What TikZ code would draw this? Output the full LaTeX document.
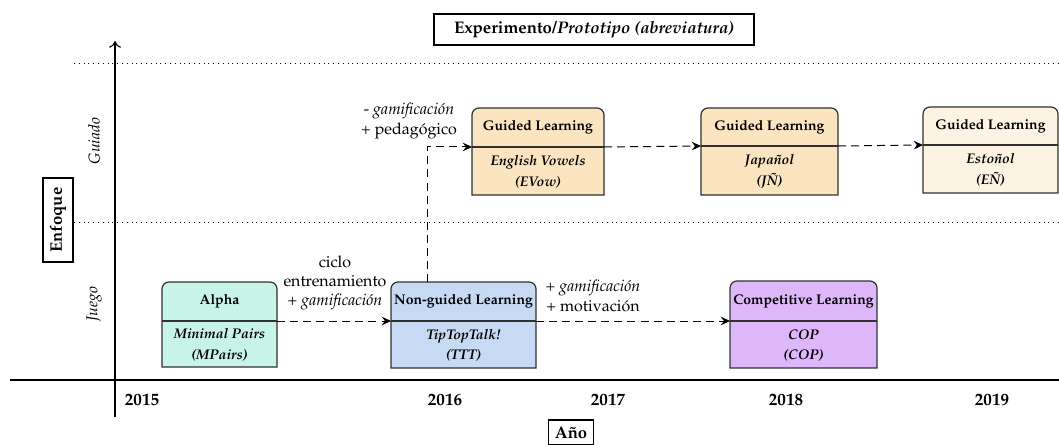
\documentclass[tikz,border=0pt]{standalone}
\usepackage[T1]{fontenc}
\usepackage{mathpazo}
\usetikzlibrary{arrows.meta}
\definecolor{alphaC}{HTML}{C8F3E9}
\definecolor{ngC}{HTML}{C6DAF3}
\definecolor{copC}{HTML}{DDB7F9}
\definecolor{evC}{HTML}{FBE4C0}
\definecolor{enC}{HTML}{FDF3E3}
\definecolor{edgeC}{HTML}{303030}
\tikzset{
  boxline/.style={draw=edgeC, line width=0.9pt},
  hdr/.style={font=\fontsize{10.5}{13}\selectfont\bfseries, inner sep=0pt},
  subtxt/.style={font=\fontsize{10.5}{15.5}\selectfont\bfseries\itshape, align=center, inner sep=0pt},
  lbl/.style={font=\fontsize{12}{14.5}\selectfont, align=center, inner sep=0pt},
  yr/.style={font=\fontsize{12.8}{14}\selectfont\bfseries, inner sep=0pt},
  axisline/.style={line width=0.8pt, black},
  dotline/.style={line width=0.6pt, dash pattern=on 0.6pt off 3pt},
  flow/.style={line width=0.75pt, dash pattern=on 6pt off 3.8pt, -{Stealth[length=7pt,width=6.5pt,inset=2.5pt]}},
  framed/.style={draw, line width=1.1pt, inner sep=3pt, font=\fontsize{12}{14}\selectfont},
}
\newcommand{\tlbox}[9]{%
  \draw[boxline, fill=#7] (#2,-#6) -- (#2,-#4-7) arc[start angle=180,end angle=90,radius=7]
     -- (#3-7,-#4) arc[start angle=90,end angle=0,radius=7] -- (#3,-#6) -- cycle;
  \draw[boxline] (#2,-#5) -- (#3,-#5);
  \coordinate (#1-w) at (#2,-#5);
  \coordinate (#1-e) at (#3,-#5);
  \node[hdr] (#1-h) at ({(#2+#3)/2},{-(#4+#5)/2}) {#8};
  \node[subtxt] (#1-s) at ({(#2+#3)/2},{-(#5+#6)/2-1}) {#9};
}
\begin{document}
\begin{tikzpicture}[x=0.75pt,y=0.75pt]
\useasboundingbox (0,0) rectangle (1059,-445);
% guide lines
\draw[dotline] (74,-63) -- (1059,-63);
\draw[dotline] (74,-222) -- (1059,-222);
% axes
\draw[axisline] (10,-380) -- (1059,-380);
\draw[axisline, -{To[length=5pt,width=9pt]}] (115,-417) -- (115,-41);
% axis labels
\node[font=\fontsize{11.8}{14}\selectfont\itshape, rotate=90] (guiado) at (94,-141) {Guiado};
\node[font=\fontsize{11.8}{14}\selectfont\itshape, rotate=90] (juego) at (94,-304) {Juego};
\node[framed, font=\fontsize{12.5}{14}\selectfont\bfseries, rotate=90, minimum height=30*0.75pt, minimum width=84*0.75pt] (enfoque) at (58,-220) {Enfoque};
\node[framed, font=\fontsize{12.5}{14}\selectfont\bfseries, minimum width=45*0.75pt, minimum height=25*0.75pt] (anio) at (571,-432.5) {A\~no};
\node[framed, font=\fontsize{12.6}{14}\selectfont, minimum width=320*0.75pt, minimum height=31*0.75pt] (title) at (594,-29.5) {\textbf{Experimento/\textit{Prototipo (abreviatura)}}};
% years
\node[yr] (y2015) at (142,-400) {2015};
\node[yr] (y2016) at (445,-400) {2016};
\node[yr] (y2017) at (608,-400) {2017};
\node[yr] (y2018) at (786,-400) {2018};
\node[yr] (y2019) at (992,-400) {2019};
% boxes
\tlbox{alpha}{162}{277}{282}{321}{367}{alphaC}{Alpha}{Minimal Pairs\\(MPairs)}
\tlbox{ng}{391}{536}{282}{321}{368}{ngC}{Non-guided Learning}{TipTopTalk!\\(TTT)}
\tlbox{cop}{730}{877}{281}{321}{368}{copC}{Competitive Learning}{COP\\(COP)}
\tlbox{ev}{472}{604}{108}{147}{195}{evC}{Guided Learning}{English Vowels\\(EVow)}
\tlbox{jn}{701}{838}{108}{146}{195}{evC}{Guided Learning}{Japa\~nol\\(J\~N)}
\tlbox{en}{923}{1058}{107}{145}{193}{enC}{Guided Learning}{Esto\~nol\\(E\~N)}
\coordinate (ng-n) at (427,-282);
% connectors
\draw[flow] (alpha-e) -- (ng-w);
\draw[flow] (ng-e) -- (cop-w);
\draw[flow] (ev-e) -- (jn-w);
\draw[flow] (jn-e) -- (en-w);
\draw[flow] (ng-n) |- (ev-w);
% labels
\node[lbl] (lab1) at (335,-283) {ciclo\\entrenamiento\\+ \textit{gamificaci\'on}};
\node[lbl] (lab2) at (409,-121) {- \textit{gamificaci\'on}\\+ pedag\'ogico};
\node[lbl] (lab3) at (593,-296) {+ \textit{gamificaci\'on}\\+ motivaci\'on};
\end{tikzpicture}
\end{document}
